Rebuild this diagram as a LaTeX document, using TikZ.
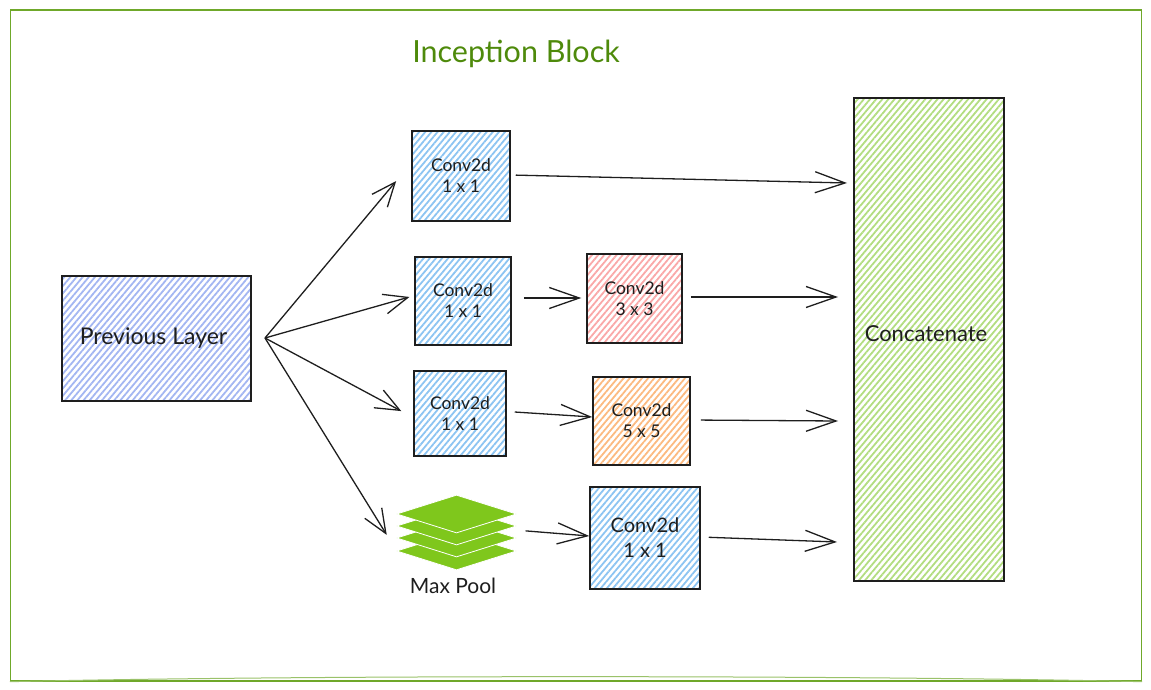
\documentclass[tikz,border=0pt]{standalone}
\usepackage{fontspec}
\setmainfont{Lato}
\usepackage{tikz}
\usetikzlibrary{positioning,calc}
\usetikzlibrary{shapes.geometric,arrows.meta,patterns.meta}
\definecolor{frame-green}{HTML}{6FA82A}
\definecolor{title-green}{HTML}{4E8A0B}
\definecolor{sheet-green}{HTML}{7FC71C}
\definecolor{ink}{HTML}{1E1E1E}
\definecolor{hatch-indigo}{HTML}{A3B6F2}
\definecolor{hatch-blue}{HTML}{8CC4F2}
\definecolor{hatch-red}{HTML}{FAA8A8}
\definecolor{hatch-orange}{HTML}{FCBA80}
\definecolor{hatch-green}{HTML}{B2DD80}
\tikzset{
  layer/.style={draw=ink,line width=1.5pt,align=center,text=ink,inner sep=0pt,
    font=\fontsize{17.5}{21}\selectfont},
  hatched/.style={pattern={Lines[angle=50,distance=4.7pt,line width=1.8pt]},pattern color=#1},
  flow/.style={draw=ink,line width=1.3pt,-{Straight Barb[length=30pt,width=21pt,line width=1.3pt]}},
  fanflow/.style={draw=ink,line width=1.3pt,-{Straight Barb[length=24pt,width=20pt,line width=1.3pt]}},
  poolsheet/.style={diamond,aspect=3,draw=white,line width=0.8pt,fill=sheet-green,inner sep=0pt,
    minimum width=120pt,minimum height=38pt}
}
\begin{document}
\begin{tikzpicture}[x=1pt,y=-1pt]
    \useasboundingbox (0,0) rectangle (1151,690);
    \node (frame) [draw=frame-green,line width=1.4pt,minimum width=1131pt,minimum height=671pt] at (576,345.5) {};
    \draw [frame-green!70,line width=1pt] (frame.south west) .. controls (300,675) and (850,675) .. (frame.south east);
    \node (title) [text=title-green,font=\fontsize{30.5}{32}\selectfont] at (516,54) {Inception Block};

    \node (previous) [layer,hatched=hatch-indigo,minimum width=189pt,minimum height=125pt,font=\fontsize{23}{26}\selectfont] at (156.5,338.5) {\raisebox{-5pt}{\hspace*{-6pt}Previous Layer}};
    \node (conv-a) [layer,hatched=hatch-blue,minimum width=98pt,minimum height=90pt] at (461,176) {Conv2d\\1 x 1};
    \node (conv-b) [layer,hatched=hatch-blue,minimum width=96pt,minimum height=88pt] at (463,301) {Conv2d\\1 x 1};
    \node (conv-c) [layer,hatched=hatch-blue,minimum width=92pt,minimum height=85pt] at (460,413.5) {Conv2d\\1 x 1};
    \node (conv-three) [layer,hatched=hatch-red,minimum width=95pt,minimum height=89pt] at (634.5,298.5) {Conv2d\\3 x 3};
    \node (conv-five) [layer,hatched=hatch-orange,minimum width=97pt,minimum height=88pt] at (641.5,421) {Conv2d\\5 x 5};
    \node (conv-d) [layer,hatched=hatch-blue,minimum width=110pt,minimum height=102pt,font=\fontsize{20}{25}\selectfont] at (645,538) {Conv2d\\1 x 1};
    \node (concat) [layer,hatched=hatch-green,minimum width=150pt,minimum height=483pt,font=\fontsize{22}{24}\selectfont] at (929,339.5) {\raisebox{12pt}{\hspace*{-6pt}Concatenate}};

    \node (pool) [minimum width=116pt,minimum height=75pt,inner sep=0pt] at (456.5,532) {};
    \foreach \sheet/\sheety in {d/551,c/538,b/526,a/514}
      \node (sheet-\sheet) [poolsheet] at (456.5,\sheety) {};
    \node (pool-label) [text=ink,font=\fontsize{21}{23}\selectfont] at (453,586) {Max Pool};

    \coordinate (fan) at (265,338);
    \draw [fanflow,shorten >=23.5pt] (fan) -- ([yshift=13pt]conv-a.west);
    \draw [fanflow,shorten >=5pt] (fan) -- ([yshift=5.4pt]conv-b.west);
    \draw [fanflow,shorten >=13.6pt] (fan) -- ([yshift=-4pt]conv-c.west);
    \draw [fanflow,shorten >=22pt] (fan) -- ([yshift=-21.6pt]pool.west);

    \coordinate (in-a) at (847,183);
    \coordinate (in-b) at (838,297);
    \coordinate (in-c) at (838,421);
    \coordinate (in-d) at (837,542);
    \draw [flow,shorten <=5pt] ([yshift=1pt]conv-a.east) -- (in-a);
    \draw [flow,shorten <=8pt] ([yshift=1.5pt]conv-three.east) -- (in-b);
    \draw [flow,shorten <=10pt] ([yshift=1pt]conv-five.east) -- (in-c);
    \draw [flow,shorten <=8pt] ([yshift=1pt]conv-d.east) -- (in-d);
    \draw [flow,shorten <=12pt,shorten >=5pt] ([yshift=3pt]conv-b.east) -- ([yshift=.5pt]conv-three.west);
    \draw [flow,shorten <=8pt] ([yshift=2pt]conv-c.east) -- ([yshift=4pt]conv-five.west);
    \draw [flow,shorten <=11pt] ([yshift=2pt]pool.east) -- ([yshift=2pt]conv-d.west);
  \end{tikzpicture}
\end{document}
